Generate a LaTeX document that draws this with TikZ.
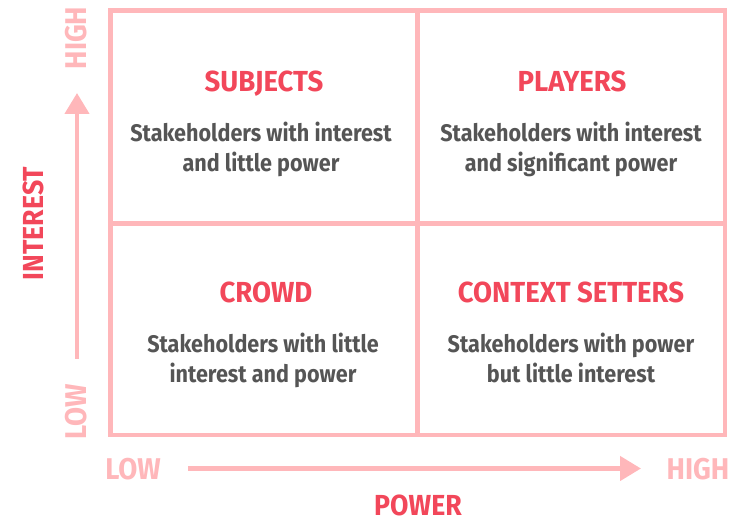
\documentclass[tikz,border=0pt]{standalone}
\usepackage{fontspec}
\setmainfont{Fira Sans}[FakeStretch=0.92]
\newfontfamily\titlefont{Fira Sans}[FakeStretch=0.95]
\newfontfamily\bodyfont{Fira Sans}[FakeStretch=0.9]
\usetikzlibrary{arrows.meta}
\definecolor{gridpink}{HTML}{FFB7BA}
\definecolor{titlered}{HTML}{F2475A}
\definecolor{bodygray}{HTML}{555555}
\tikzset{
  gridline/.style={draw=gridpink, line width=4.2pt},
  quadtitle/.style={text=titlered, font=\titlefont\fontsize{29}{31}\selectfont\bfseries, anchor=base, inner sep=0pt},
  quadbody/.style={text=bodygray, font=\bodyfont\fontsize{24}{30}\selectfont\bfseries, anchor=base, inner sep=0pt},
  axislevel/.style={text=gridpink, font=\fontsize{30}{32}\selectfont\bfseries, anchor=base, inner sep=0pt},
  axisname/.style={text=titlered, font=\fontsize{29}{31}\selectfont\bfseries, anchor=base, inner sep=0pt},
  axisarrow/.style={draw=gridpink, line width=4.5pt, -{Triangle[length=21pt,width=24pt]}}
}
\begin{document}
\begin{tikzpicture}[x=1pt,y=-1pt]
  \useasboundingbox (0,0) rectangle (740,521);
  % quadrant grid
  \draw[gridline] (110.5,10.5) rectangle (725,435);
  \draw[gridline] (417.5,10.5) -- (417.5,435);
  \draw[gridline] (110.5,223.5) -- (725,223.5);
  % quadrant titles
  \node[quadtitle] (subj) at (264,92) {SUBJECTS};
  \node[quadtitle] (play) at (572,92) {PLAYERS};
  \node[quadtitle] (crowd) at (266,303) {CROWD};
  \node[quadtitle] (ctx) at (571,303) {CONTEXT SETTERS};
  % quadrant descriptions, one node per line
  \node[quadbody] (subja) at (261,142) {Stakeholders with interest};
  \node[quadbody] (subjb) at (261,172) {and little power};
  \node[quadbody] (playa) at (571,142) {Stakeholders with interest};
  \node[quadbody] (playb) at (571,172) {and significant power};
  \node[quadbody] (crowda) at (263,353) {Stakeholders with little};
  \node[quadbody] (crowdb) at (263,383) {interest and power};
  \node[quadbody] (ctxa) at (571,353) {Stakeholders with power};
  \node[quadbody] (ctxb) at (571,383) {but little interest};
  % vertical axis
  \coordinate (vstart) at (77,359);
  \coordinate (vend) at (77,93);
  \draw[axisarrow] (vstart) -- (vend);
  \node[axislevel, rotate=90] (vhigh) at (86,38) {HIGH};
  \node[axislevel, rotate=90] (vlow) at (86,412) {LOW};
  \node[axisname, rotate=90] (interest) at (43,223.5) {INTEREST};
  % horizontal axis
  \coordinate (hstart) at (188,468.5);
  \coordinate (hend) at (641,468.5);
  \draw[axisarrow] (hstart) -- (hend);
  \node[axislevel] (hlow) at (133,480) {LOW};
  \node[axislevel] (hhigh) at (698,480) {HIGH};
  \node[axisname] (power) at (418,516) {POWER};
\end{tikzpicture}
\end{document}
